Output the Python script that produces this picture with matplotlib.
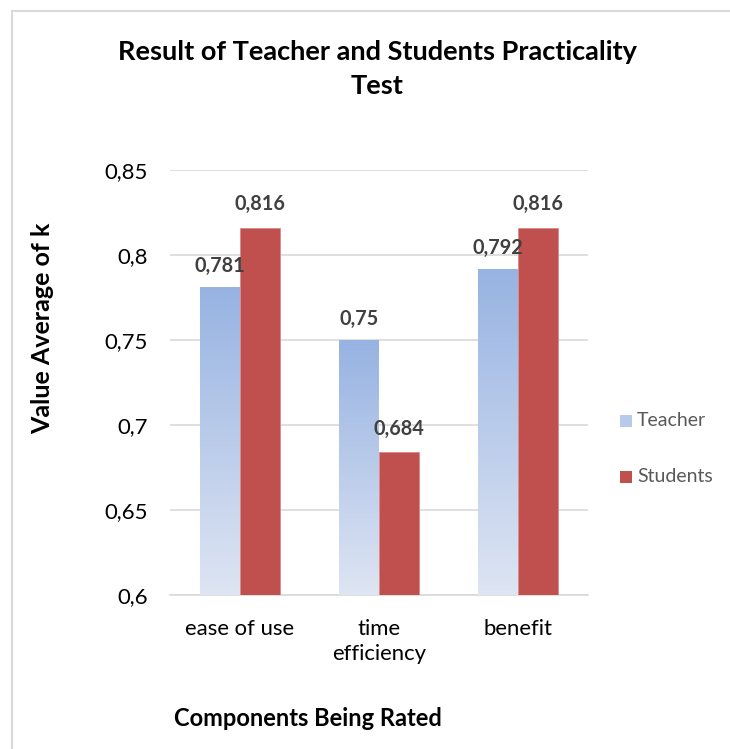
import matplotlib
matplotlib.use("Agg")
import matplotlib.pyplot as plt
import numpy as np
from matplotlib.patches import Rectangle
from matplotlib.colors import LinearSegmentedColormap

categories = ["ease of use", "time\nefficiency", "benefit"]
teacher = [0.781, 0.75, 0.792]
students = [0.816, 0.684, 0.816]
teacher_labels = ["0,781", "0,75", "0,792"]
student_labels = ["0,816", "0,684", "0,816"]
yticks = [0.6, 0.65, 0.7, 0.75, 0.8, 0.85]
ytick_labels = ["0,6", "0,65", "0,7", "0,75", "0,8", "0,85"]

plt.rcParams['font.family'] = ['Lato', 'DejaVu Sans']

fig = plt.figure(figsize=(7.3, 7.49), dpi=100)
ax = fig.add_axes([170/730, 1-595/749, 418/730, 425/749])

x = np.arange(len(categories))
w = 0.287
grad = LinearSegmentedColormap.from_list("g", ["#DEE5F3", "#97B3E2"])
tb = ax.bar(x - w/2, teacher, w, bottom=0, color="none", edgecolor="none", zorder=3)
sb = ax.bar(x + w/2, students, w, color="#C0504D", edgecolor="#D98A88", linewidth=0.6, zorder=3)

ax.set_ylim(0.6, 0.85)
ax.set_xlim(-0.5, 2.5)

for p in tb:
    x0, wd, h = p.get_x(), p.get_width(), p.get_height()
    img = np.linspace(0, 1, 256).reshape(-1, 1)
    im = ax.imshow(img, cmap=grad, origin="lower", aspect="auto",
                   extent=[x0, x0 + wd, 0.6, h], zorder=3)
    im.set_clip_path(p)

for p, lab in zip(tb, teacher_labels):
    ax.annotate(lab, (p.get_x() + p.get_width()/2, p.get_height()), xytext=(0, 15),
                textcoords="offset points", ha="center", va="center",
                fontsize=14.3, fontweight="bold", color="#404040", zorder=5)
for p, lab in zip(sb, student_labels):
    ax.annotate(lab, (p.get_x() + p.get_width()/2, p.get_height()), xytext=(0, 17),
                textcoords="offset points", ha="center", va="center",
                fontsize=14.3, fontweight="bold", color="#404040", zorder=5)

ax.set_yticks(yticks)
ax.set_yticklabels(ytick_labels)
ax.set_xticks(x)
ax.set_xticklabels(categories, linespacing=1.35)
ax.tick_params(axis="both", length=0, labelsize=15.9, colors="#000000")
ax.tick_params(axis="y", pad=16)
ax.tick_params(axis="x", pad=17)
ax.grid(axis="y", color="#D9D9D9", linewidth=1.2, zorder=0)
ax.set_axisbelow(True)
for s in ["top", "right", "left"]:
    ax.spines[s].set_visible(False)
ax.spines["bottom"].set_color("#D9D9D9")
ax.spines["bottom"].set_linewidth(1.2)

fig.text(377/730, 1-69/749, "Result of Teacher and Students Practicality\nTest",
         ha="center", va="center", fontsize=19.5, fontweight="bold", linespacing=1.45)
fig.text(43/730, 1-328/749, "Value Average of k", rotation=90, ha="center", va="center",
         fontsize=18, fontweight="bold")
fig.text(308/730, 1-718/749, "Components Being Rated", ha="center", va="center",
         fontsize=17, fontweight="bold")

# legend
fig.patches.append(Rectangle((620/730, 1-427/749), 12/730, 12/749, transform=fig.transFigure,
                             facecolor="#B7CAEA", edgecolor="none"))
fig.text(637/730, 1-421/749, "Teacher", ha="left", va="center", fontsize=14, color="#595959")
fig.patches.append(Rectangle((620/730, 1-483/749), 12/730, 12/749, transform=fig.transFigure,
                             facecolor="#C0504D", edgecolor="none"))
fig.text(637/730, 1-477/749, "Students", ha="left", va="center", fontsize=14, color="#595959")

# outer border
fig.patches.append(Rectangle((12/730, -0.05), 1.1, 1 - 11/749 + 0.05, transform=fig.transFigure,
                             facecolor="none", edgecolor="#D9D9D9", linewidth=1.5))

fig.savefig("out.png", dpi=100)
